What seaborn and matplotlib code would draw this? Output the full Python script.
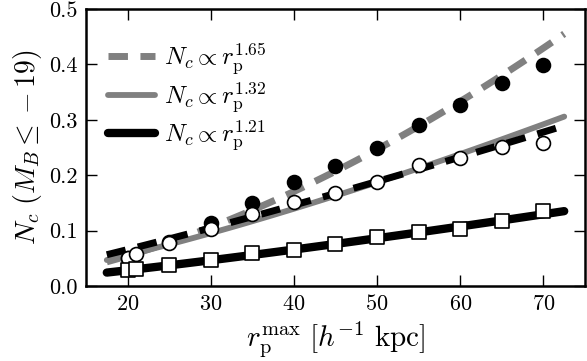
import numpy as np
import matplotlib
matplotlib.use("Agg")
import matplotlib.pyplot as plt
import seaborn as sns

# data
r_filled = [20, 25, 30, 35, 40, 45, 50, 55, 60, 65, 70]
n_filled = [0.050, 0.080, 0.113, 0.150, 0.188, 0.217, 0.249, 0.291, 0.327, 0.366, 0.399]
r_open = [20, 21, 25, 30, 35, 40, 45, 50, 55, 60, 65, 70]
n_open = [0.050, 0.057, 0.078, 0.103, 0.130, 0.152, 0.168, 0.188, 0.218, 0.231, 0.251, 0.258]
r_square = [20, 21, 25, 30, 35, 40, 45, 50, 55, 60, 65, 70]
n_square = [0.029, 0.030, 0.038, 0.047, 0.060, 0.065, 0.075, 0.088, 0.098, 0.103, 0.117, 0.136]

# power-law fits: exponent and value at r = 72
fit_slopes = [1.65, 1.32, 1.15, 1.21]
fit_norm72 = [0.450, 0.303, 0.287, 0.134]
fit_labels = [r'$N_c \propto r_{\rm p}^{1.65}$', r'$N_c \propto r_{\rm p}^{1.32}$', None,
              r'$N_c \propto r_{\rm p}^{1.21}$']
fit_colors = ['#808080', '#808080', 'black', 'black']
fit_styles = ['dashed', 'solid', 'dashed', 'solid']
fit_widths = [5.0, 4.2, 5.0, 6.0]

sns.set_style("ticks")
plt.rcParams['font.family'] = 'serif'
plt.rcParams['font.serif'] = ['cmr10', 'DejaVu Serif']
plt.rcParams['mathtext.fontset'] = 'cm'
plt.rcParams['axes.unicode_minus'] = False
plt.rcParams['axes.formatter.use_mathtext'] = True
for key in ['axes.edgecolor', 'axes.labelcolor', 'text.color', 'xtick.color', 'ytick.color']:
    plt.rcParams[key] = 'black'

fig, ax = plt.subplots(figsize=(5.87, 3.61), dpi=100)
fig.subplots_adjust(left=0.1465, right=0.9966, bottom=0.2078, top=0.975)

r_fit = np.linspace(17.5, 72.5, 100)
for s, a, lab, c, ls, lw in zip(fit_slopes, fit_norm72, fit_labels, fit_colors, fit_styles, fit_widths):
    line, = ax.plot(r_fit, a * (r_fit / 72.0) ** s, color=c, lw=lw, linestyle=ls,
                    label=lab if lab else '_nolegend_', zorder=2)
    if ls == 'dashed':
        line.set_dashes((2.8, 1.8))

sns.scatterplot(x=r_filled, y=n_filled, ax=ax, color='black', edgecolor='black',
                s=100, marker='o', linewidth=1.2, zorder=3)
sns.scatterplot(x=r_open, y=n_open, ax=ax, color='white', edgecolor='black',
                s=100, marker='o', linewidth=1.2, zorder=4)
sns.scatterplot(x=r_square, y=n_square, ax=ax, color='white', edgecolor='black',
                s=100, marker='s', linewidth=1.2, zorder=5)

ax.set_xlim(15, 75)
ax.set_ylim(0, 0.5)
ax.set_xticks([20, 30, 40, 50, 60, 70])
ax.set_yticks([0.0, 0.1, 0.2, 0.3, 0.4, 0.5])
ax.yaxis.set_major_formatter(matplotlib.ticker.FormatStrFormatter('%.1f'))
ax.tick_params(direction='in', length=8, width=1, top=True, right=True, labelsize=16, pad=6)
for sp in ax.spines.values():
    sp.set_linewidth(1.8)

ax.set_xlabel(r'$r_{\rm p}^{\rm max}\ [h^{-1}\ {\rm kpc}]$', fontsize=21, labelpad=4)
ax.set_ylabel(r'$N_c\ (M_B \leq -19)$', fontsize=20, labelpad=4)

ax.legend(loc='upper left', bbox_to_anchor=(0.024, 0.918), frameon=False, fontsize=18,
          handlelength=1.9, labelspacing=0.15, borderaxespad=0.0, handletextpad=0.35)

fig.savefig('out.png', dpi=100)
